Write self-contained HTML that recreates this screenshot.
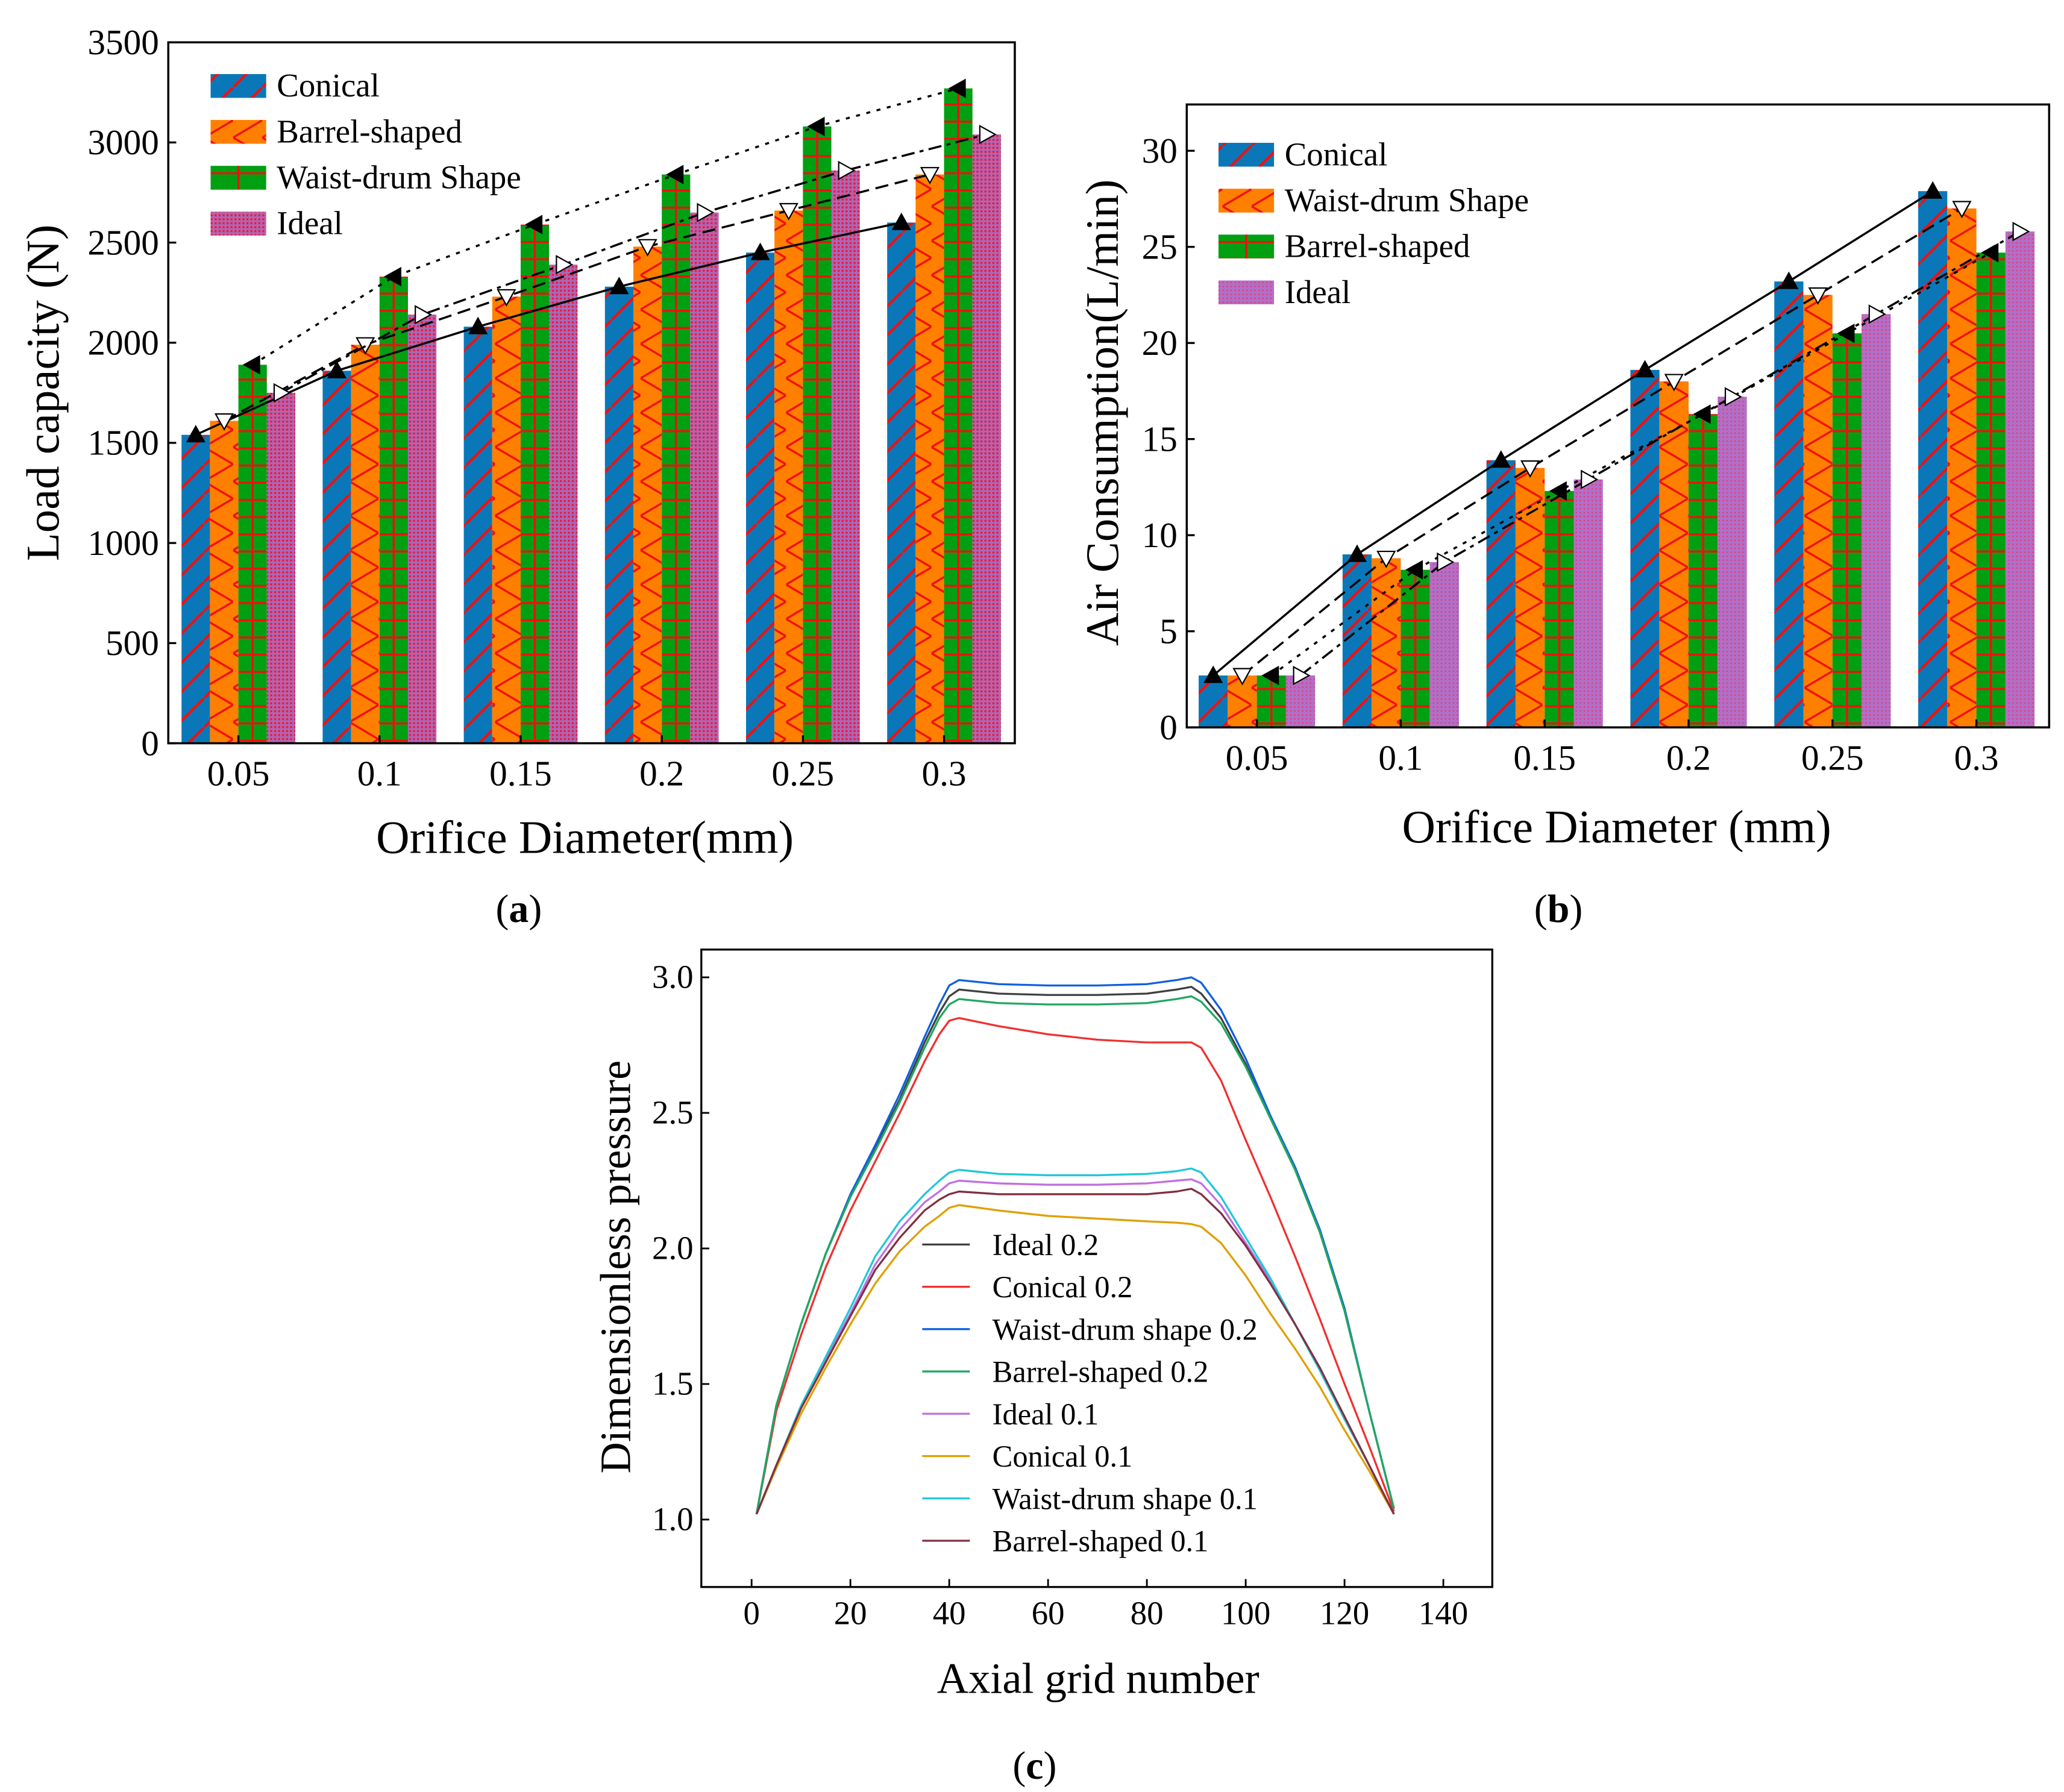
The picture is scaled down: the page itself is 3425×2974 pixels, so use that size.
<!DOCTYPE html>
<html><head><meta charset="utf-8"><style>
html,body{margin:0;padding:0;background:#fff}
svg{display:block;font-family:"Liberation Serif",serif}
svg text{font-family:"Liberation Serif",serif;fill:#000}
</style></head><body>
<svg id="s" width="3425" height="2974" viewBox="0 0 1560 1355" font-family="Liberation Serif, serif" xmlns="http://www.w3.org/2000/svg">
<defs>
<pattern id="pConical" patternUnits="userSpaceOnUse" width="22" height="22"><rect width="22" height="22" fill="#0a78b8"/><path d="M-2,24 L24,-2" stroke="#f01010" stroke-width="2"/></pattern>
<pattern id="pBarrel" patternUnits="userSpaceOnUse" width="22" height="26"><rect width="22" height="26" fill="#ff8000"/><path d="M0,0 L22,13 L0,26" stroke="#f01010" stroke-width="1.6" fill="none"/></pattern>
<pattern id="pWaist" patternUnits="userSpaceOnUse" width="22" height="13"><rect width="22" height="13" fill="#00a012"/><path d="M0,1 H22" stroke="#f01010" stroke-width="1.6"/></pattern>
<pattern id="pIdealA" patternUnits="userSpaceOnUse" width="3" height="3"><rect width="3" height="3" fill="#a86ab8"/><rect width="1.6" height="1.6" fill="#f01840"/></pattern>
<pattern id="pIdealB" patternUnits="userSpaceOnUse" width="3" height="3"><rect width="3" height="3" fill="#b070c8"/><rect width="1.2" height="1.2" fill="#e04080"/></pattern>
</defs>
<g id="ga"></g><g id="gb"></g><g id="gc"></g>
<text x="392" y="697" font-size="30" text-anchor="middle">(<tspan font-weight="bold">a</tspan>)</text>
<text x="1178" y="697" font-size="30" text-anchor="middle">(<tspan font-weight="bold">b</tspan>)</text>
<text x="782" y="1345" font-size="30" text-anchor="middle">(<tspan font-weight="bold">c</tspan>)</text>
</svg>
<script>
const NS="http://www.w3.org/2000/svg";
function mk(p,t,a,txt){const e=document.createElementNS(NS,t);for(const k in a)e.setAttribute(k,a[k]);if(t==="text")e.setAttribute("font-family","Liberation Serif, serif");if(txt!==undefined)e.textContent=txt;p.appendChild(e);return e;}

// ---- Panel a data ----
const catsA=["0.05","0.1","0.15","0.2","0.25","0.3"];
const aConical=[1540,1860,2080,2280,2450,2600];
const aBarrel=[1610,1990,2230,2480,2660,2840];
const aWaist=[1890,2330,2590,2840,3080,3270];
const aIdeal=[1750,2140,2390,2650,2860,3040];
const aTicks=[0,500,1000,1500,2000,2500,3000,3500];
// ---- Panel b data ----
const catsB=["0.05","0.1","0.15","0.2","0.25","0.3"];
const bConical=[2.7,9.0,13.9,18.6,23.2,27.9];
const bWaist=[2.7,8.8,13.5,18.0,22.5,27.0];
const bBarrel=[2.7,8.2,12.3,16.3,20.5,24.7];
const bIdeal=[2.7,8.6,12.9,17.2,21.5,25.8];
const bTicks=[0,5,10,15,20,25,30];
// ---- Panel c data ----
const cX=[1,5,10,15,20,25,30,35,38,40,42,50,60,70,80,86,89,91,95,100,105,110,115,120,125,130];
const cIdeal2=[1.02,1.42,1.72,1.98,2.19,2.37,2.55,2.76,2.87,2.93,2.955,2.94,2.935,2.935,2.94,2.955,2.965,2.94,2.85,2.68,2.48,2.29,2.06,1.77,1.4,1.04];
const cConical2=[1.02,1.4,1.68,1.93,2.14,2.32,2.5,2.69,2.79,2.84,2.85,2.82,2.79,2.77,2.76,2.76,2.76,2.74,2.62,2.4,2.19,1.97,1.74,1.5,1.27,1.03];
const cWaist2=[1.02,1.42,1.72,1.98,2.2,2.38,2.57,2.78,2.9,2.97,2.99,2.975,2.97,2.97,2.975,2.99,3.0,2.98,2.88,2.7,2.49,2.3,2.07,1.78,1.4,1.04];
const cBarrel2=[1.02,1.42,1.72,1.98,2.19,2.36,2.54,2.74,2.85,2.9,2.92,2.905,2.9,2.9,2.905,2.92,2.93,2.91,2.83,2.67,2.48,2.29,2.06,1.77,1.4,1.04];
const cIdeal1=[1.02,1.2,1.41,1.59,1.76,1.94,2.07,2.17,2.21,2.24,2.25,2.24,2.235,2.235,2.24,2.25,2.255,2.24,2.16,2.02,1.88,1.72,1.56,1.37,1.2,1.02];
const cConical1=[1.02,1.19,1.39,1.56,1.72,1.87,1.99,2.08,2.12,2.15,2.16,2.14,2.12,2.11,2.1,2.095,2.09,2.08,2.02,1.9,1.76,1.63,1.49,1.33,1.18,1.02];
const cWaist1=[1.02,1.2,1.42,1.6,1.78,1.97,2.1,2.2,2.25,2.28,2.29,2.275,2.27,2.27,2.275,2.285,2.295,2.28,2.19,2.04,1.89,1.72,1.55,1.37,1.2,1.02];
const cBarrel1=[1.02,1.2,1.41,1.58,1.75,1.92,2.04,2.14,2.18,2.2,2.21,2.2,2.2,2.2,2.2,2.21,2.22,2.2,2.13,2.01,1.87,1.72,1.56,1.38,1.2,1.02];
const cXTicks=[0,20,40,60,80,100,120,140];
const cYTicks=[1.0,1.5,2.0,2.5,3.0];

function marker(g,type,x,y,name){
  const s=6.5;let d;
  if(type==="up")d=`M${x},${y-s} L${x+s},${y+s*0.8} L${x-s},${y+s*0.8}Z`;
  if(type==="down")d=`M${x},${y+s} L${x+s},${y-s*0.8} L${x-s},${y-s*0.8}Z`;
  if(type==="left")d=`M${x-s},${y} L${x+s*0.8},${y-s} L${x+s*0.8},${y+s}Z`;
  if(type==="right")d=`M${x+s},${y} L${x-s*0.8},${y-s} L${x-s*0.8},${y+s}Z`;
  const filled=(type==="up"||type==="left");
  const p=mk(g,"path",{d,fill:filled?"#000":"#fff",stroke:"#000","stroke-width":1});
  
  
}

function barPanel(cfg){
  const g=document.getElementById(cfg.gid);
  const {L,R,T,B,ymax}=cfg;
  const ys=v=>B-(v/ymax)*(B-T);
  const xc=i=>cfg.x0+i*cfg.dx;
  const bw=cfg.bw;
  cfg.series.forEach((s,si)=>{
    s.vals.forEach((v,i)=>{
      const x=xc(i)-2*bw+si*bw;
      const r=mk(g,"rect",{x,y:ys(v),width:bw,height:B-ys(v),fill:`url(#${s.pat})`});
      
      
      if(s.pat==="pWaist"){mk(g,"line",{x1:x+bw/2,x2:x+bw/2,y1:ys(v),y2:B,stroke:"#f01010","stroke-width":1.6});}
    });
  });
  cfg.series.forEach((s,si)=>{
    const pts=s.vals.map((v,i)=>[xc(i)-2*bw+si*bw+bw/2,ys(v)]);
    const pl=mk(g,"polyline",{points:pts.map(p=>p.join(",")).join(" "),fill:"none",stroke:"#000","stroke-width":1.6,"stroke-dasharray":s.dash});
    
    
    pts.forEach((p,i)=>marker(g,s.mk,p[0],p[1],`marker-${s.key}-${cfg.cats[i]}`));
  });
  const fr=mk(g,"rect",{x:L,y:T,width:R-L,height:B-T,fill:"none",stroke:"#000","stroke-width":1.6});
  
  cfg.ticks.forEach(t=>{
    mk(g,"line",{x1:L,x2:L+6,y1:ys(t),y2:ys(t),stroke:"#000","stroke-width":1.5});
    const tx=mk(g,"text",{x:L-7,y:ys(t)+9,"font-size":27,"text-anchor":"end"},String(t));
    
  });
  cfg.cats.forEach((c,i)=>{
    mk(g,"line",{x1:xc(i),x2:xc(i),y1:B,y2:B-6,stroke:"#000","stroke-width":1.5});
    const tx=mk(g,"text",{x:xc(i),y:B+32,"font-size":27,"text-anchor":"middle"},c);
    
  });
  const xt=mk(g,"text",{x:cfg.xtx,y:cfg.xty,"font-size":35,"text-anchor":"middle"},cfg.xtitle);
  
  const yt=mk(g,"text",{x:0,y:0,"font-size":35,"text-anchor":"middle",transform:`translate(${cfg.ytx},${cfg.yty}) rotate(-90)`},cfg.ytitle);
  
  cfg.legend.forEach((l,i)=>{
    const y=cfg.ly+i*34.7;
    const sw=mk(g,"rect",{x:cfg.lx,y:y-9,width:42,height:18,fill:`url(#${l.pat})`});
    
    if(l.pat==="pWaist")mk(g,"line",{x1:cfg.lx+21,x2:cfg.lx+21,y1:y-9,y2:y+9,stroke:"#f01010","stroke-width":1.6});
    const tx=mk(g,"text",{x:cfg.lx+50,y:y+8,"font-size":25},l.name);
    
  });
}

barPanel({gid:"ga",L:127,R:767,T:32,B:562,ymax:3500,x0:180,dx:106.7,bw:21.5,cats:catsA,ticks:aTicks,
  series:[{key:"conical",vals:aConical,pat:"pConical",dash:"",mk:"up"},
          {key:"barrel",vals:aBarrel,pat:"pBarrel",dash:"10,5",mk:"down"},
          {key:"waist",vals:aWaist,pat:"pWaist",dash:"3,5",mk:"left"},
          {key:"ideal",vals:aIdeal,pat:"pIdealA",dash:"10,4,3,4",mk:"right"}],
  xtitle:"Orifice Diameter(mm)",xtx:442,xty:645,ytitle:"Load capacity (N)",ytx:44,yty:297,
  lx:159,ly:65,legend:[{name:"Conical",pat:"pConical"},{name:"Barrel-shaped",pat:"pBarrel"},{name:"Waist-drum Shape",pat:"pWaist"},{name:"Ideal",pat:"pIdealA"}]});

barPanel({gid:"gb",L:897,R:1549,T:79,B:550,ymax:30*(550-79)/436,x0:950,dx:108.8,bw:22,cats:catsB,ticks:bTicks,
  series:[{key:"conical",vals:bConical,pat:"pConical",dash:"",mk:"up"},
          {key:"waist",vals:bWaist,pat:"pBarrel",dash:"10,5",mk:"down"},
          {key:"barrel",vals:bBarrel,pat:"pWaist",dash:"3,5",mk:"left"},
          {key:"ideal",vals:bIdeal,pat:"pIdealB",dash:"10,4,3,4",mk:"right"}],
  xtitle:"Orifice Diameter (mm)",xtx:1222,xty:637,ytitle:"Air Consumption(L/min)",ytx:845,yty:312,
  lx:921,ly:117,legend:[{name:"Conical",pat:"pConical"},{name:"Waist-drum Shape",pat:"pBarrel"},{name:"Barrel-shaped",pat:"pWaist"},{name:"Ideal",pat:"pIdealB"}]});

(function(){
  const g=document.getElementById("gc");
  const L=530,R=1128,T=718,B=1200;
  const xs=v=>568+v*(1091-568)/140;
  const ys=v=>1149-(v-1)*205;
  const series=[
    {n:"Ideal 0.2",v:cIdeal2,c:"#404040",k:"ideal-0-2"},
    {n:"Conical 0.2",v:cConical2,c:"#f03030",k:"conical-0-2"},
    {n:"Waist-drum shape 0.2",v:cWaist2,c:"#1060e0",k:"waist-0-2"},
    {n:"Barrel-shaped 0.2",v:cBarrel2,c:"#20a860",k:"barrel-0-2"},
    {n:"Ideal 0.1",v:cIdeal1,c:"#c070e0",k:"ideal-0-1"},
    {n:"Conical 0.1",v:cConical1,c:"#e0a000",k:"conical-0-1"},
    {n:"Waist-drum shape 0.1",v:cWaist1,c:"#20c8d8",k:"waist-0-1"},
    {n:"Barrel-shaped 0.1",v:cBarrel1,c:"#803040",k:"barrel-0-1"}];
  series.forEach(s=>{
    const pl=mk(g,"polyline",{points:cX.map((x,i)=>xs(x)+","+ys(s.v[i])).join(" "),fill:"none",stroke:s.c,"stroke-width":1.5,"stroke-linejoin":"round"});
    
    
  });
  const fr=mk(g,"rect",{x:L,y:T,width:R-L,height:B-T,fill:"none",stroke:"#000","stroke-width":1.5});
  
  cXTicks.forEach(t=>{
    mk(g,"line",{x1:xs(t),x2:xs(t),y1:B,y2:B-6,stroke:"#000","stroke-width":1.3});
    const tx=mk(g,"text",{x:xs(t),y:B+28,"font-size":25,"text-anchor":"middle"},String(t));
    
  });
  cYTicks.forEach(t=>{
    mk(g,"line",{x1:L,x2:L+6,y1:ys(t),y2:ys(t),stroke:"#000","stroke-width":1.3});
    const tx=mk(g,"text",{x:L-6,y:ys(t)+8,"font-size":25,"text-anchor":"end"},t.toFixed(1));
    
  });
  const xt=mk(g,"text",{x:830,y:1280,"font-size":33,"text-anchor":"middle"},"Axial grid number");
  
  const yt=mk(g,"text",{x:0,y:0,"font-size":33,"text-anchor":"middle",transform:"translate(476,958) rotate(-90)"},"Dimensionless pressure");
  
  series.forEach((s,i)=>{
    const y=941+i*32;
    mk(g,"line",{x1:697,x2:733,y1:y,y2:y,stroke:s.c,"stroke-width":1.5});
    const tx=mk(g,"text",{x:750,y:y+8,"font-size":23},s.n);
    
  });
})();
</script>
</body></html>
